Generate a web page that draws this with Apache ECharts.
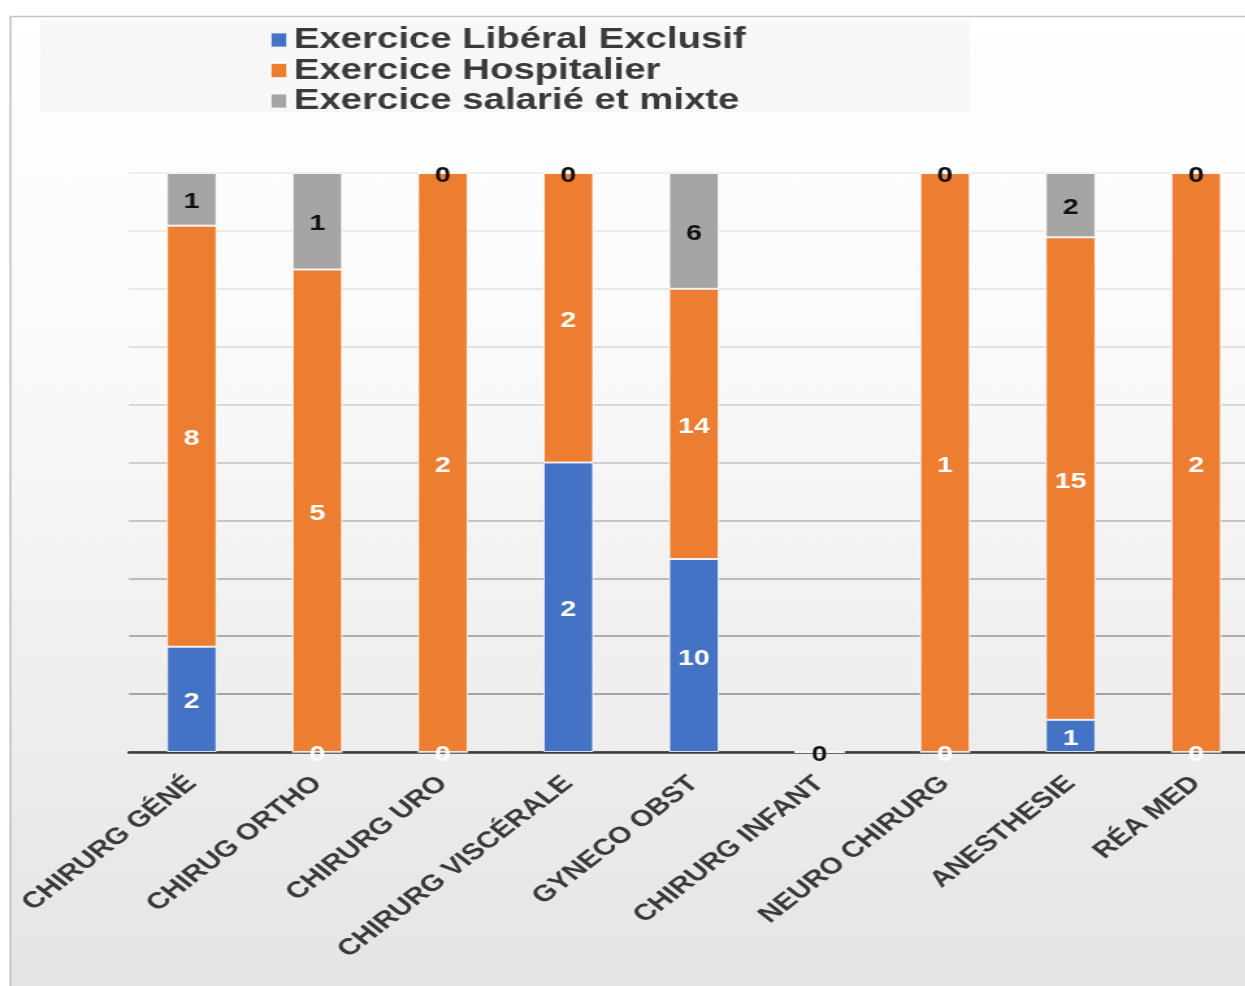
<!DOCTYPE html>
<html>
<head>
<meta charset="utf-8">
<script src="https://cdn.jsdelivr.net/npm/echarts@6/dist/echarts.min.js"></script>
<style>
html,body{margin:0;padding:0;background:#fff;overflow:hidden;}
#wrap{width:1245px;height:986px;overflow:hidden;}
#main{width:976px;height:986px;transform:scaleX(1.3);transform-origin:0 0;}
</style>
</head>
<body>
<div id="wrap"><div id="main"></div></div>
<script>
const categories = ['CHIRURG GÉNÉ','CHIRUG ORTHO','CHIRURG URO','CHIRURG VISCÉRALE','GYNECO OBST','CHIRURG INFANT','NEURO CHIRURG','ANESTHESIE','RÉA MED'];
const seriesNames = ['Exercice Libéral Exclusif','Exercice Hospitalier','Exercice salarié et mixte'];
const liberal = [2, 0, 0, 2, 10, 0, 0, 1, 0];
const hospitalier = [8, 5, 2, 2, 14, 0, 1, 15, 2];
const salarie = [1, 1, 0, 0, 6, 0, 0, 2, 0];

const raw = [liberal, hospitalier, salarie];
const totals = categories.map((_, i) => liberal[i] + hospitalier[i] + salarie[i]);
const pct = arr => arr.map((v, i) => totals[i] ? v / totals[i] * 100 : 0);

const colors = ['#4472C4', '#ED7D31', '#A5A5A5'];
const labelColors = ['#ffffff', '#ffffff', '#111111'];
const FONT = 'Liberation Sans, Arial, sans-serif';

const chart = echarts.init(document.getElementById('main'));

const series = raw.map((arr, s) => ({
  name: seriesNames[s],
  type: 'bar',
  stack: 'total',
  barWidth: 38.5,
  data: pct(arr),
  itemStyle: { color: colors[s], borderColor: 'rgba(255,255,255,0.8)', borderWidth: 1 },
  label: {
    show: true,
    position: 'inside',
    color: labelColors[s],
    fontSize: 22,
    fontWeight: 'bold',
    fontFamily: FONT,
    offset: [0, 3],
    formatter: p => String(arr[p.dataIndex])
  }
}));

chart.setOption({
  animation: false,
  color: colors,
  graphic: [
    {
      type: 'rect', z: -100, silent: true,
      shape: { x: 8, y: 16.5, width: 1000, height: 1000 },
      style: {
        fill: new echarts.graphic.LinearGradient(0, 0, 0, 1, [
          { offset: 0, color: '#ffffff' },
          { offset: 0.3, color: '#fbfbfb' },
          { offset: 1, color: '#e4e4e4' }
        ]),
        stroke: '#c4c4c4', lineWidth: 1.6
      }
    },
    {
      type: 'rect', z: -99, silent: true,
      shape: { x: 31, y: 20, width: 715, height: 92 },
      style: { fill: 'rgba(235,235,235,0.35)' }
    }
  ],
  legend: {
    orient: 'vertical',
    left: 202,
    top: 20,
    icon: 'rect',
    itemWidth: 13,
    itemHeight: 15,
    itemGap: 0.5,
    textStyle: { fontSize: 29.5, fontWeight: 'bold', color: '#3a3a3a', fontFamily: FONT, lineHeight: 30 },
    data: seriesNames
  },
  grid: { left: 99.2, width: 869.2, top: 173, bottom: 234, containLabel: false },
  xAxis: {
    type: 'category',
    data: categories,
    axisTick: { show: false },
    axisLine: { lineStyle: { color: '#3c3c3c', width: 2.5 } },
    axisLabel: {
      interval: 0,
      rotate: 45,
      margin: 28,
      fontSize: 23,
      color: '#3a3a3a',
      fontFamily: FONT,
      fontWeight: 'bold'
    }
  },
  yAxis: {
    type: 'value',
    min: 0,
    max: 100,
    interval: 10,
    axisLabel: { show: false },
    axisLine: { show: false },
    axisTick: { show: false },
    splitLine: {
      lineStyle: {
        width: 1.5,
        color: ['#777777', '#8a8a8a', '#999999', '#a8a8a8', '#b6b6b6', '#c2c2c2', '#cecece', '#d8d8d8', '#e0e0e0', '#e6e6e6', '#eaeaea']
      }
    }
  },
  series: series
});
</script>
</body>
</html>
